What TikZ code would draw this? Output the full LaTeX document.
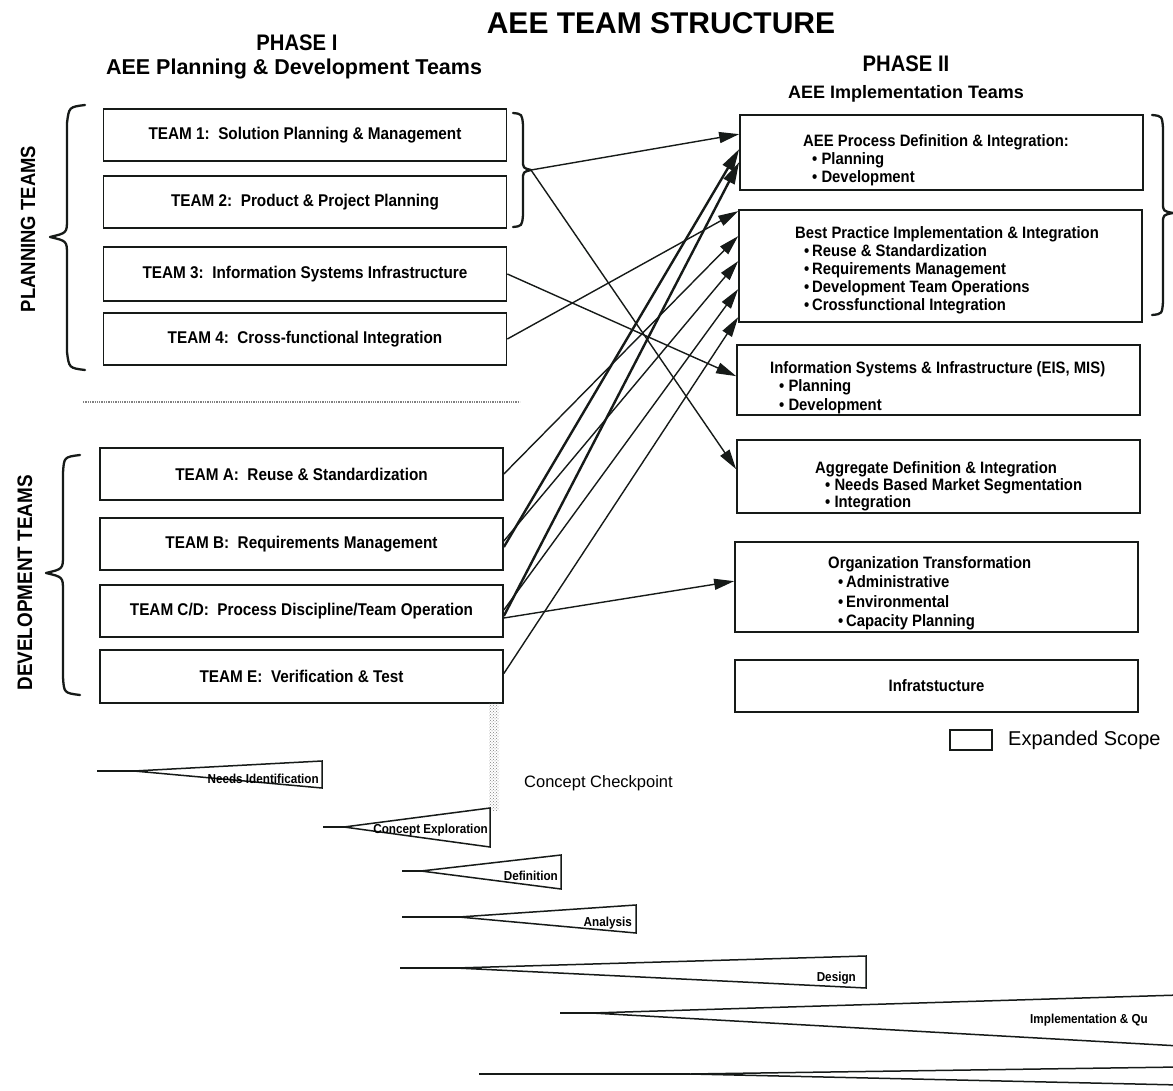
\documentclass[tikz,border=0pt]{standalone}
\usepackage{fontspec}
\setmainfont{Liberation Sans}
\newfontfamily\nar[FakeStretch=0.9]{Liberation Sans}
\usetikzlibrary{arrows.meta,calc,patterns}
\definecolor{ink}{RGB}{22,26,24}
\begin{document}
\begin{tikzpicture}[x=1pt,y=-1pt,
  box/.style={draw=ink,line width=1.7pt,inner sep=0pt},
  lbox/.style={box,minimum width=403pt,minimum height=52pt,font=\nar\bfseries\fontsize{17}{20}\selectfont},
  rbox/.style={box,minimum width=403pt},
  rtext/.style={anchor=north west,inner sep=0pt,align=left,font=\nar\bfseries\fontsize{16.5}{18}\selectfont},
  arr/.style={draw=ink,line width=1.4pt,-{Triangle[length=20pt,width=11pt]}},
  thickarr/.style={arr,line width=2.4pt,-{Triangle[length=22pt,width=12pt]}},
  bracestyle/.style={draw=ink,line width=2.3pt,line cap=round,line join=round},
  wedge/.style={draw=ink,line width=1.5pt,line join=miter},
  tail/.style={draw=ink,line width=2.6pt},
  wlabel/.style={inner sep=0pt,anchor=east,font=\nar\bfseries\fontsize{13}{15}\selectfont},
  head/.style={inner sep=0pt,font=\nar\bfseries\fontsize{22.5}{26}\selectfont}]
\useasboundingbox (0,0) rectangle (1173,1091);
\fill[white] (0,0) rectangle (1173,1091);

% titles
\node[inner sep=0pt,font=\bfseries\fontsize{30}{34}\selectfont] (title) at (661,23) {AEE TEAM STRUCTURE};
\node[head] (ph1) at (297,43) {PHASE I};
\node[inner sep=0pt,font=\bfseries\fontsize{21.5}{24}\selectfont] (ph1s) at (294,69) {AEE Planning \& Development Teams};
\node[head] (ph2) at (906,64) {PHASE II};
\node[inner sep=0pt,font=\bfseries\fontsize{18}{22}\selectfont] (ph2s) at (906,94) {AEE Implementation Teams};

% side labels
\node[rotate=90,inner sep=0pt,font=\nar\bfseries\fontsize{20.5}{24}\selectfont] (plab) at (28,229) {PLANNING TEAMS};
\node[rotate=90,inner sep=0pt,font=\nar\bfseries\fontsize{21}{24}\selectfont] (dlab) at (25,583) {DEVELOPMENT TEAMS};

% left boxes
\node[lbox] (t1) at (305,135) {TEAM 1:\ \ Solution Planning \& Management};
\node[lbox] (t2) at (305,202) {TEAM 2:\ \ Product \& Project Planning};
\node[lbox,minimum height=54pt] (t3) at (305,274) {TEAM 3:\ \ Information Systems Infrastructure};
\node[lbox] (t4) at (305,339) {TEAM 4:\ \ Cross-functional Integration};
\node[lbox] (ta) at (301.5,474) {TEAM A:\ \ Reuse \& Standardization};
\node[lbox] (tb) at (301.5,544) {TEAM B:\ \ Requirements Management};
\node[lbox] (tcd) at (301.5,611) {TEAM C/D:\ \ Process Discipline/Team Operation};
\node[lbox,minimum height=53pt] (te) at (301.5,676.5) {TEAM E:\ \ Verification \& Test};

% separator
\draw[gray,line width=1.3pt,densely dotted] (83,402) -- (520,402);

% braces
\draw[bracestyle] (85,105) .. controls (69,107) .. (67,123) -- (67,219) .. controls (67,233) .. (50,237) .. controls (67,241) .. (67,255) -- (67,352) .. controls (69,368) .. (85,370);
\draw[bracestyle] (80,455) .. controls (64,457) .. (63,473) -- (63,555) .. controls (63,569) .. (46,573) .. controls (63,577) .. (63,591) -- (63,677) .. controls (64,693) .. (80,695);
\draw[bracestyle] (513,113) .. controls (522,114) .. (523,125) -- (523,160) .. controls (523,168) .. (531,170) .. controls (523,172) .. (523,180) -- (523,215) .. controls (522,226) .. (513,227);
\draw[bracestyle] (1152,115) .. controls (1162,116) .. (1163,128) -- (1163,203) .. controls (1163,211) .. (1173,213) .. controls (1163,215) .. (1163,223) -- (1163,302) .. controls (1162,314) .. (1152,315);
\coordinate (mb) at (531,170);

% right boxes
\node[rbox,minimum height=75pt] (r1) at (941.5,152.5) {};
\node[rbox,minimum height=112pt] (r2) at (940.5,266) {};
\node[rbox,minimum height=70pt] (r3) at (938.5,380) {};
\node[rbox,minimum height=73pt] (r4) at (938.5,476.5) {};
\node[rbox,minimum height=90pt] (r5) at (936.5,587) {};
\node[rbox,minimum height=52pt,font=\nar\bfseries\fontsize{16.5}{18}\selectfont] (r6) at (936.5,686) {Infratstucture};

\node[rtext] (r1t) at (803,134) {AEE Process Definition \& Integration:\\\hspace*{9pt}• Planning\\\hspace*{9pt}• Development};
\node[rtext,font=\nar\bfseries\fontsize{16.5}{18.2}\selectfont] (r2t) at (795,226) {Best Practice Implementation \& Integration\\\hspace*{9pt}•\,Reuse \& Standardization\\\hspace*{9pt}•\,Requirements Management\\\hspace*{9pt}•\,Development Team Operations\\\hspace*{9pt}•\,Crossfunctional Integration};
\node[rtext,font=\nar\bfseries\fontsize{16.5}{18.5}\selectfont] (r3t) at (770,361) {Information Systems \& Infrastructure (EIS, MIS)\\\hspace*{9pt}• Planning\\\hspace*{9pt}• Development};
\node[rtext,font=\nar\bfseries\fontsize{16.5}{17}\selectfont] (r4t) at (815,461) {Aggregate Definition \& Integration\\\hspace*{10pt}• Needs Based Market Segmentation\\\hspace*{10pt}• Integration};
\node[rtext,font=\nar\bfseries\fontsize{16.5}{19.5}\selectfont] (r5t) at (828,556) {Organization Transformation\\\hspace*{10pt}•\,Administrative\\\hspace*{10pt}•\,Environmental\\\hspace*{10pt}•\,Capacity Planning};

% connectors
\draw[arr] (mb) -- ($(r1.north west)+(0,20)$);
\draw[arr] (mb) -- ($(r4.north west)+(0,30)$);
\draw[arr] (t3.east) -- ($(r3.north west)+(0,32)$);
\draw[arr] (t4.east) -- ($(r2.north west)+(0,2)$);
\draw[arr] (ta.east) -- ($(r2.north west)+(0,27)$);
\draw[thickarr] ($(tb.east)+(0,3)$) -- ($(r1.north west)+(0,35)$);
\draw[arr] ($(tb.east)+(0,-3)$) -- ($(r2.north west)+(0,52)$);
\draw[thickarr] ($(tcd.east)+(0,5)$) -- ($(r1.north west)+(0,48)$);
\draw[arr] ($(tcd.east)+(0,-1)$) -- ($(r2.north west)+(0,80)$);
\draw[arr] ($(tcd.east)+(0,7)$) -- ($(r5.north west)+(0,40)$);
\draw[arr] ($(te.east)+(0,-3)$) -- ($(r2.north west)+(0,108)$);

% legend
\node[draw=ink,line width=2.5pt,minimum width=42pt,minimum height=20pt,inner sep=0pt] (leg) at (971,740) {};
\node[anchor=west,inner sep=0pt,font=\fontsize{20}{24}\selectfont] (legt) at (1008,740) {Expanded Scope};

% checkpoint
\fill[pattern=crosshatch dots,pattern color=gray] (489,703) rectangle (499,810);
\node[anchor=west,inner sep=0pt,font=\fontsize{16.5}{20}\selectfont] (cc) at (524,783) {Concept Checkpoint};

% phase wedges
\draw[tail] (97,771) -- (134,771);
\draw[wedge] (134,771) -- (322,761) -- (322,788) -- cycle;
\node[wlabel] (w1) at (319,779) {Needs Identification};
\draw[tail] (323,827) -- (344,827);
\draw[wedge] (344,827) -- (490,808) -- (490,847) -- cycle;
\node[wlabel] (w2) at (488,830) {Concept Exploration};
\draw[tail] (402,871) -- (421,871);
\draw[wedge] (421,871) -- (561,855) -- (561,889) -- cycle;
\node[wlabel] (w3) at (558,876) {Definition};
\draw[tail] (402,917) -- (459,917);
\draw[wedge] (459,917) -- (636,905) -- (636,933) -- cycle;
\node[wlabel] (w4) at (632,923) {Analysis};
\draw[tail] (400,968) -- (456,968);
\draw[wedge] (456,968) -- (866,956) -- (866,988) -- cycle;
\node[wlabel] (w5) at (856,978) {Design};
\draw[tail] (560,1013) -- (592,1013);
\draw[wedge] (1180,995) -- (592,1013) -- (1180,1046);
\node[wlabel,anchor=west] (w6) at (1030,1020) {Implementation \& Qu};
\draw[tail] (479,1074) -- (690,1074);
\draw[wedge] (1180,1067) -- (690,1074) -- (1180,1085);
\end{tikzpicture}
\end{document}
